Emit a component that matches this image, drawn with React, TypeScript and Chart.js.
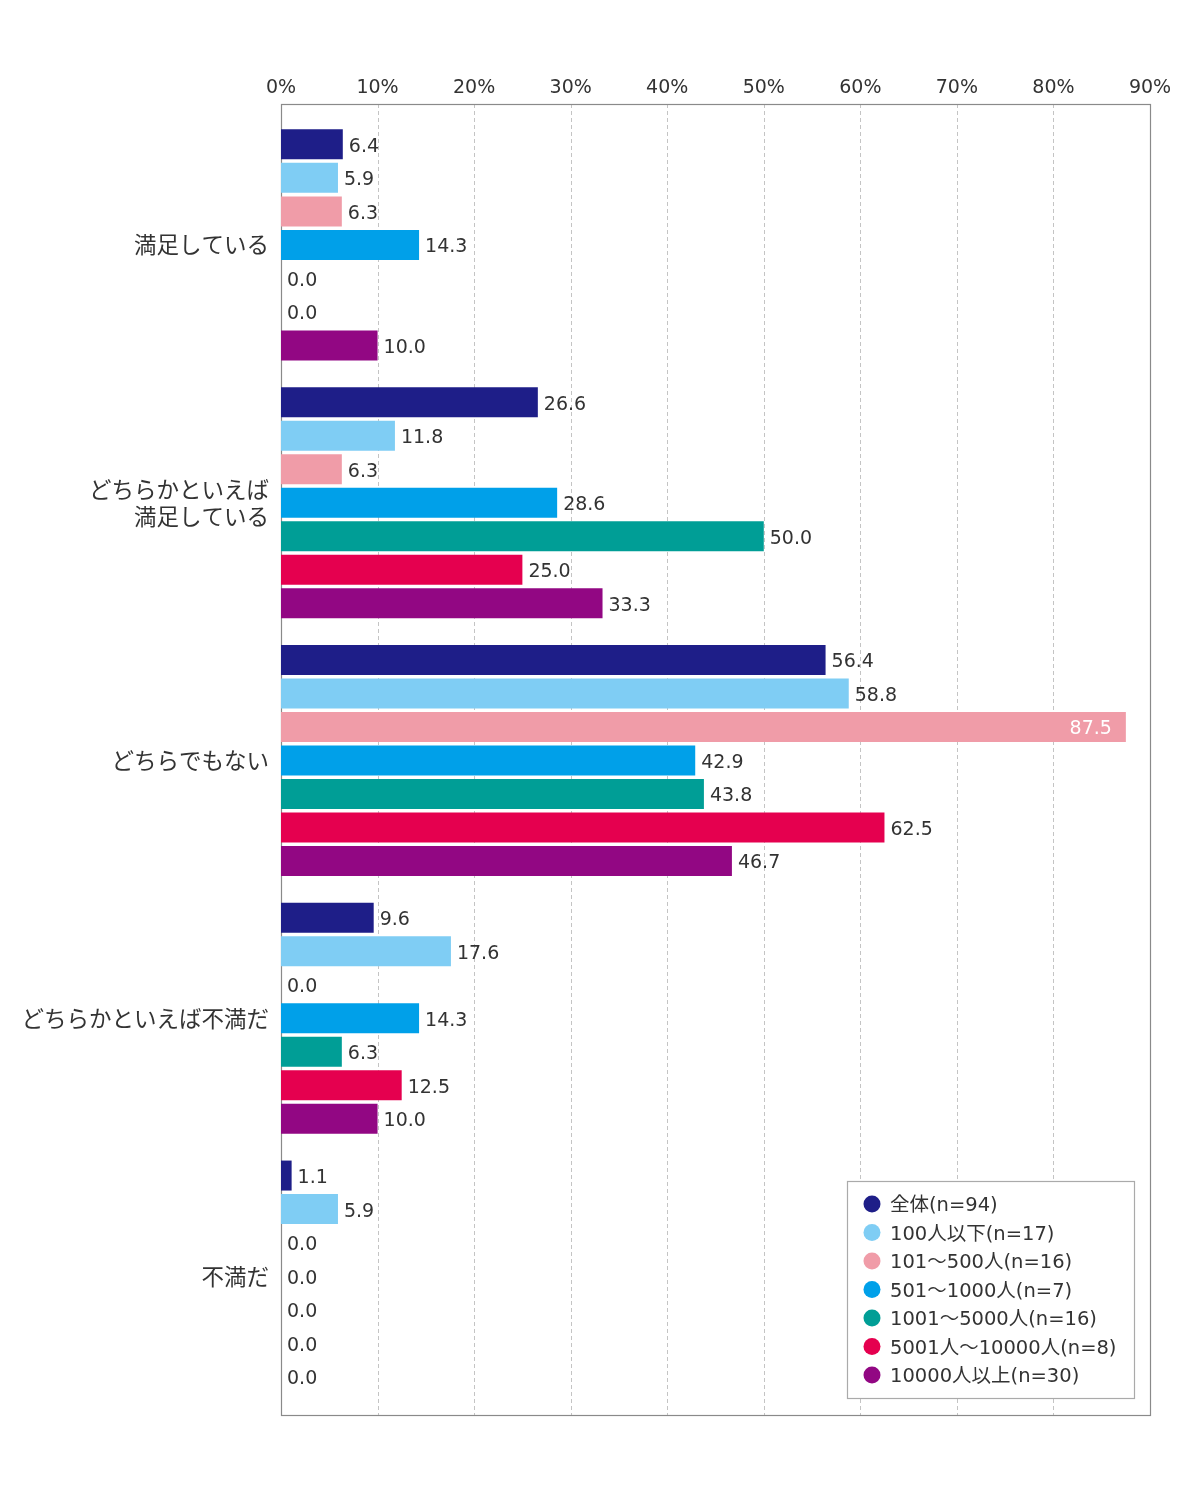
import React, { useEffect, useRef } from "react";
import { Chart, registerables } from "chart.js";

Chart.register(...registerables);

const categories: (string | string[])[] = [
  "満足している",
  ["どちらかといえば", "満足している"],
  "どちらでもない",
  "どちらかといえば不満だ",
  "不満だ",
];

const seriesNames = [
  "全体(n=94)",
  "100人以下(n=17)",
  "101～500人(n=16)",
  "501～1000人(n=7)",
  "1001～5000人(n=16)",
  "5001人～10000人(n=8)",
  "10000人以上(n=30)",
];

const seriesColors = ["#1e1e88", "#7fcdf4", "#f09ca8", "#00a0e9", "#009e96", "#e5004f", "#920783"];

const allValues = [6.4, 26.6, 56.4, 9.6, 1.1];
const upTo100 = [5.9, 11.8, 58.8, 17.6, 5.9];
const from101to500 = [6.3, 6.3, 87.5, 0.0, 0.0];
const from501to1000 = [14.3, 28.6, 42.9, 14.3, 0.0];
const from1001to5000 = [0.0, 50.0, 43.8, 6.3, 0.0];
const from5001to10000 = [0.0, 25.0, 62.5, 12.5, 0.0];
const over10000 = [10.0, 33.3, 46.7, 10.0, 0.0];

const seriesValues = [allValues, upTo100, from101to500, from501to1000, from1001to5000, from5001to10000, over10000];

const xTicks = [0, 10, 20, 30, 40, 50, 60, 70, 80, 90];

const FONT = '"DejaVu Sans", "Noto Sans CJK JP", sans-serif';
const JP_FONT = '"Noto Sans CJK JP", "Noto Sans", sans-serif';
const TEXT = "#333333";

const framePlugin = {
  id: "frameGrid",
  beforeDatasetsDraw(chart: any) {
    const { ctx, chartArea, scales } = chart;
    const top = chartArea.top - 12;
    const bottom = chartArea.bottom + 10;
    ctx.save();
    ctx.strokeStyle = "#c4c4c4";
    ctx.lineWidth = 1;
    ctx.setLineDash([4, 3]);
    xTicks.slice(1, -1).forEach((v) => {
      const x = Math.round(scales.x.getPixelForValue(v)) + 0.5;
      ctx.beginPath();
      ctx.moveTo(x, top);
      ctx.lineTo(x, bottom);
      ctx.stroke();
    });
    ctx.setLineDash([]);
    ctx.strokeStyle = "#8a8a8a";
    ctx.lineWidth = 1.2;
    ctx.strokeRect(Math.round(chartArea.left) + 0.5, Math.round(top) + 0.5, Math.round(chartArea.right - chartArea.left), Math.round(bottom - top));
    ctx.restore();
  },
};

const labelPlugin = {
  id: "valueLabels",
  afterDatasetsDraw(chart: any) {
    const { ctx } = chart;
    ctx.save();
    ctx.font = `19px ${FONT}`;
    ctx.textBaseline = "middle";
    chart.data.datasets.forEach((ds: any, di: number) => {
      const meta = chart.getDatasetMeta(di);
      meta.data.forEach((bar: any, i: number) => {
        const v = ds.data[i];
        const txt = v.toFixed(1);
        if (v > 80) {
          ctx.fillStyle = "#ffffff";
          ctx.textAlign = "right";
          ctx.fillText(txt, bar.x - 14, bar.y + 2.5);
        } else {
          ctx.fillStyle = TEXT;
          ctx.textAlign = "left";
          ctx.fillText(txt, bar.x + 6, bar.y + 2.5);
        }
      });
    });
    ctx.restore();
  },
};

const legendPlugin = {
  id: "insideLegend",
  afterDraw(chart: any) {
    const { ctx, chartArea } = chart;
    const w = 287;
    const h = 217;
    const right = chartArea.right - 16;
    const bottom = chartArea.bottom + 10 - 17;
    const left = right - w;
    const top = bottom - h;
    ctx.save();
    ctx.fillStyle = "#ffffff";
    ctx.fillRect(left, top, w, h);
    ctx.strokeStyle = "#aaaaaa";
    ctx.lineWidth = 1.2;
    ctx.strokeRect(Math.round(left) + 0.5, Math.round(top) + 0.5, w, h);
    ctx.font = `19.5px ${FONT}`;
    ctx.textBaseline = "middle";
    ctx.textAlign = "left";
    chart.data.datasets.forEach((ds: any, i: number) => {
      const y = top + 23 + i * 28.5;
      ctx.fillStyle = ds.backgroundColor;
      ctx.beginPath();
      ctx.arc(left + 25, y, 8.5, 0, Math.PI * 2);
      ctx.fill();
      ctx.fillStyle = TEXT;
      ctx.fillText(ds.label, left + 43, y + 2);
    });
    ctx.restore();
  },
};

export default function App() {
  const ref = useRef<HTMLCanvasElement | null>(null);

  useEffect(() => {
    document.body.style.margin = "0";
    if (!ref.current) return;
    const chart = new Chart(ref.current, {
      type: "bar",
      data: {
        labels: categories,
        datasets: seriesNames.map((name, i) => ({
          label: name,
          data: seriesValues[i],
          backgroundColor: seriesColors[i],
          borderWidth: 0,
          categoryPercentage: 0.91,
          barPercentage: 0.895,
        })),
      },
      options: {
        indexAxis: "y",
        animation: false,
        responsive: false,
        maintainAspectRatio: false,
        layout: { padding: { left: 0, top: 0, right: 50, bottom: 95 } },
        plugins: {
          legend: { display: false },
          tooltip: { enabled: false },
        },
        scales: {
          x: {
            position: "top",
            min: 0,
            max: 90,
            afterFit: (s: any) => {
              s.height = 116;
            },
            afterBuildTicks: (s: any) => {
              s.ticks = xTicks.map((v) => ({ value: v }));
            },
            ticks: {
              padding: 17,
              color: TEXT,
              font: { family: FONT, size: 19 },
              callback: (v: any) => `${v}%`,
            },
            grid: { display: false, drawTicks: false },
            border: { display: false },
          },
          y: {
            afterFit: (s: any) => {
              s.width = 281;
            },
            ticks: {
              padding: 12,
              color: TEXT,
              font: { family: JP_FONT, size: 22.5, lineHeight: 1.2 },
            },
            grid: { display: false, drawTicks: false },
            border: { display: false },
          },
        },
      },
      plugins: [framePlugin, labelPlugin, legendPlugin],
    } as any);
    return () => chart.destroy();
  }, []);

  return (
    <div style={{ width: 1200, height: 1500, background: "#fff" }}>
      <canvas ref={ref} width={1200} height={1500} style={{ width: 1200, height: 1500 }} />
    </div>
  );
}
